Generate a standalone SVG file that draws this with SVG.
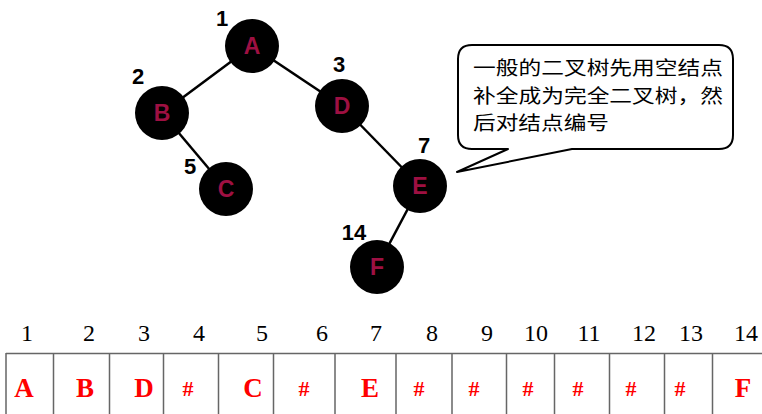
<svg xmlns="http://www.w3.org/2000/svg" width="762" height="414" viewBox="0 0 762 414">
  <style>
    .edge { stroke: #000; stroke-width: 2.5; fill: none; }
    .node circle { fill: #000; }
    .node .key { font-family: "Liberation Sans", Arial, sans-serif; font-weight: bold; font-size: 23px; fill: #9E1042; text-anchor: middle; }
    .node .num { font-family: "Liberation Sans", Arial, sans-serif; font-weight: bold; font-size: 22px; fill: #000; text-anchor: middle; }
    .callout { fill: #fff; stroke: #000; stroke-width: 2; stroke-linejoin: round; }
    .note { font-family: "Noto Sans CJK SC", "Noto Sans", sans-serif; font-size: 19px; fill: #000; }
    .grid { stroke: #666; stroke-width: 1.5; fill: none; }
    .idx { font-family: "Liberation Serif", "Times New Roman", serif; font-size: 24px; fill: #000; text-anchor: middle; }
    .cell { font-family: "Liberation Serif", "Times New Roman", serif; font-weight: bold; font-size: 27px; fill: #FF0000; text-anchor: middle; }
    .hash { font-size: 22px; }
  </style>

  <!-- tree edges -->
  <g id="edges">
    <line class="edge" x1="252" y1="46" x2="162" y2="113"/>
    <line class="edge" x1="252" y1="46" x2="342" y2="106"/>
    <line class="edge" x1="162" y1="113" x2="226" y2="189"/>
    <line class="edge" x1="342" y1="106" x2="420" y2="186"/>
    <line class="edge" x1="420" y1="186" x2="377" y2="267"/>
  </g>

  <!-- tree nodes with level-order numbers -->
  <g id="node-A" class="node">
    <circle cx="252" cy="46" r="27"/>
    <text class="key" x="252" y="54">A</text>
    <text class="num" x="222" y="26">1</text>
  </g>
  <g id="node-B" class="node">
    <circle cx="162" cy="113" r="27"/>
    <text class="key" x="162" y="121">B</text>
    <text class="num" x="138" y="84">2</text>
  </g>
  <g id="node-C" class="node">
    <circle cx="226" cy="189" r="27"/>
    <text class="key" x="226" y="197">C</text>
    <text class="num" x="190" y="174">5</text>
  </g>
  <g id="node-D" class="node">
    <circle cx="342" cy="106" r="27"/>
    <text class="key" x="342" y="114">D</text>
    <text class="num" x="339" y="72">3</text>
  </g>
  <g id="node-E" class="node">
    <circle cx="420" cy="186" r="27"/>
    <text class="key" x="420" y="194">E</text>
    <text class="num" x="424" y="153">7</text>
  </g>
  <g id="node-F" class="node">
    <circle cx="377" cy="267" r="27"/>
    <text class="key" x="377" y="275">F</text>
    <text class="num" x="354" y="240">14</text>
  </g>

  <!-- speech bubble -->
  <g id="note">
    <path class="callout" d="M472,45 H719 Q733,45 733,59 V135 Q733,149 719,149 H572 L457,172 L508,149 H472 Q458,149 458,135 V59 Q458,45 472,45 Z"/>
    <text class="note" x="473" y="75" textLength="250" lengthAdjust="spacingAndGlyphs">一般的二叉树先用空结点</text>
    <text class="note" x="473" y="102.5" textLength="250" lengthAdjust="spacingAndGlyphs">补全成为完全二叉树，然</text>
    <text class="note" x="473" y="130" textLength="136" lengthAdjust="spacingAndGlyphs">后对结点编号</text>
  </g>

  <!-- sequential storage array -->
  <g id="array">
    <path class="grid" d="M6,353.5 H762 M6,353 V414 M53.5,353 V414 M109.5,353 V414 M163.5,353 V414 M218.5,353 V414 M273.5,353 V414 M335,353 V414 M396,353 V414 M452,353 V414 M506.5,353 V414 M554.5,353 V414 M609.5,353 V414 M664.5,353 V414 M712.5,353 V414"/>
    <g class="idx">
      <text x="27" y="341">1</text>
      <text x="89" y="341">2</text>
      <text x="144" y="341">3</text>
      <text x="199" y="341">4</text>
      <text x="262" y="341">5</text>
      <text x="322" y="341">6</text>
      <text x="376" y="341">7</text>
      <text x="432" y="341">8</text>
      <text x="487" y="341">9</text>
      <text x="536" y="341">10</text>
      <text x="589" y="341">11</text>
      <text x="644" y="341">12</text>
      <text x="691" y="341">13</text>
      <text x="746" y="341">14</text>
    </g>
    <g class="cell">
      <text x="24" y="397">A</text>
      <text x="85" y="397">B</text>
      <text x="144" y="397">D</text>
      <text class="hash" x="188" y="396">#</text>
      <text x="253" y="397">C</text>
      <text class="hash" x="304" y="396">#</text>
      <text x="370" y="397">E</text>
      <text class="hash" x="419" y="396">#</text>
      <text class="hash" x="474" y="396">#</text>
      <text class="hash" x="528" y="396">#</text>
      <text class="hash" x="578" y="396">#</text>
      <text class="hash" x="631" y="396">#</text>
      <text class="hash" x="680" y="396">#</text>
      <text x="743" y="397">F</text>
    </g>
  </g>
</svg>
